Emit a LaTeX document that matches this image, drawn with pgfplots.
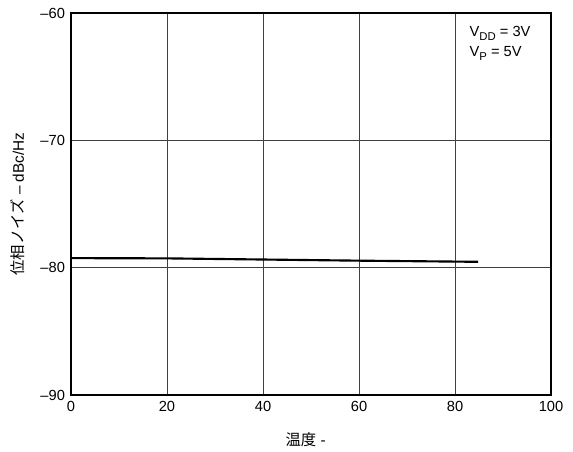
\documentclass[border=0pt]{standalone}
\usepackage{fontspec}
\setmainfont{Liberation Sans}
\newfontfamily\cjk{Noto Sans CJK JP}
\usepackage{pgfplots}
\pgfplotsset{compat=1.18}
\newcommand{\sub}[1]{\raisebox{-0.45ex}{\fontsize{8.5}{10}\selectfont #1}}
\begin{document}
\begin{tikzpicture}
\begin{axis}[
  scale only axis,
  width=360pt, height=286.5pt,
  xmin=0, xmax=100, ymin=-90, ymax=-60,
  xtick={0,20,...,100}, ytick={-90,-80,-70,-60},
  yticklabels={--90,--80,--70,--60},
  /pgf/number format/assume math mode=true,
  tick style={draw=none},
  grid=major,
  major grid style={draw=black!75, line width=0.7pt},
  axis line style={line width=1.3pt},
  ticklabel style={font=\fontsize{11}{13}\selectfont},
  yticklabel style={xshift=-1pt},
  xticklabel style={yshift=-1.5pt},
  xlabel={{\cjk 温度} -},
  ylabel={{\cjk 位相ノイズ} – dBc/Hz},
  label style={font=\fontsize{11.5}{13}\selectfont},
  xlabel style={at={(axis description cs:0.5,0)}, anchor=center, yshift=-33.5pt, xshift=-4pt},
  ylabel style={at={(axis description cs:0,0.5)}, anchor=center, rotate=0, yshift=39.75pt},
]
\addplot[black, line width=1.6pt] coordinates {(0,-79.25) (20,-79.27) (40,-79.36) (60,-79.45) (84.8,-79.54)};
\node[anchor=north west, align=left, inner sep=0pt, font=\fontsize{11}{15}\selectfont] at (rel axis cs:0.83,0.965) {V\sub{DD} = 3V\\V\sub{P} = 5V};
\end{axis}
\path[use as bounding box] ([xshift=-53.25pt,yshift=-39pt]current axis.south west) rectangle ([xshift=16.5pt,yshift=9.75pt]current axis.north east);
\end{tikzpicture}
\end{document}
